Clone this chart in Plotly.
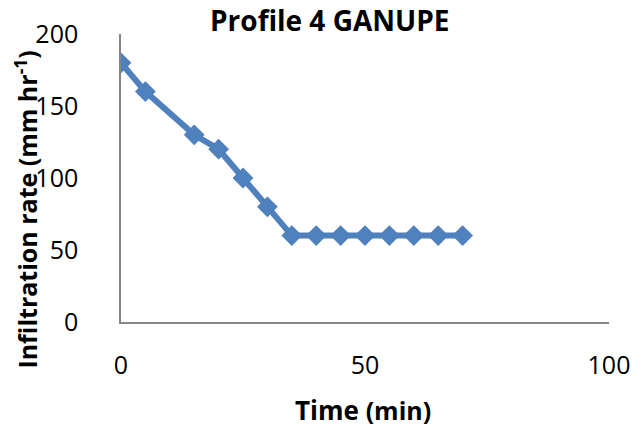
import plotly.graph_objects as go

# Infiltration measurements for profile 4
time_min = [0, 5, 15, 20, 25, 30, 35, 40, 45, 50, 55, 60, 65, 70]
infiltration_rate = [180, 160, 130, 120, 100, 80, 60, 60, 60, 60, 60, 60, 60, 60]

x_ticks = [0, 50, 100]
y_ticks = [0, 50, 100, 150, 200]

line_color = "#4F81BD"
axis_color = "#868686"
font_family = "'Open Sans', Lato, sans-serif"

fig = go.Figure()
fig.add_trace(go.Scatter(
    x=time_min,
    y=infiltration_rate,
    mode="lines+markers",
    line=dict(color=line_color, width=6),
    marker=dict(symbol="diamond", size=16, color=line_color),
    showlegend=False,
    hoverinfo="skip",
))

fig.update_layout(
    width=642,
    height=432,
    margin=dict(l=121, r=30, t=34, b=110),
    paper_bgcolor="white",
    plot_bgcolor="white",
    font=dict(family=font_family, color="#000000"),
    xaxis=dict(
        range=[0, 100],
        tickvals=x_ticks,
        ticks="",
        showgrid=False,
        zeroline=False,
        showline=True,
        linecolor=axis_color,
        linewidth=1.5,
        tickfont=dict(size=25),
        ticklabelstandoff=20,
    ),
    yaxis=dict(
        range=[0, 200],
        tickvals=y_ticks,
        ticks="",
        showgrid=False,
        zeroline=False,
        showline=True,
        linecolor=axis_color,
        linewidth=1.5,
        tickfont=dict(size=25),
        ticklabelstandoff=36,
    ),
    annotations=[
        dict(
            text="<b>Profile 4 GANUPE</b>",
            xref="paper", yref="paper",
            x=(331 - 121) / 491, y=1 + (34 - 20) / 288,
            xanchor="center", yanchor="middle",
            showarrow=False,
            font=dict(size=28),
        ),
        dict(
            text="<b>Infiltration rate (mm hr<sup>-1</sup>)</b>",
            xref="paper", yref="paper",
            x=(25 - 121) / 491, y=(322 - 210) / 288,
            xanchor="center", yanchor="middle",
            textangle=-90,
            showarrow=False,
            font=dict(size=25),
        ),
        dict(
            text="<b>Time <span style='font-size:25px'>(min)</span></b>",
            xref="paper", yref="paper",
            x=(364 - 121) / 491, y=-(410 - 322) / 288,
            xanchor="center", yanchor="middle",
            showarrow=False,
            font=dict(size=26),
        ),
    ],
)

fig.write_html("out.html")
